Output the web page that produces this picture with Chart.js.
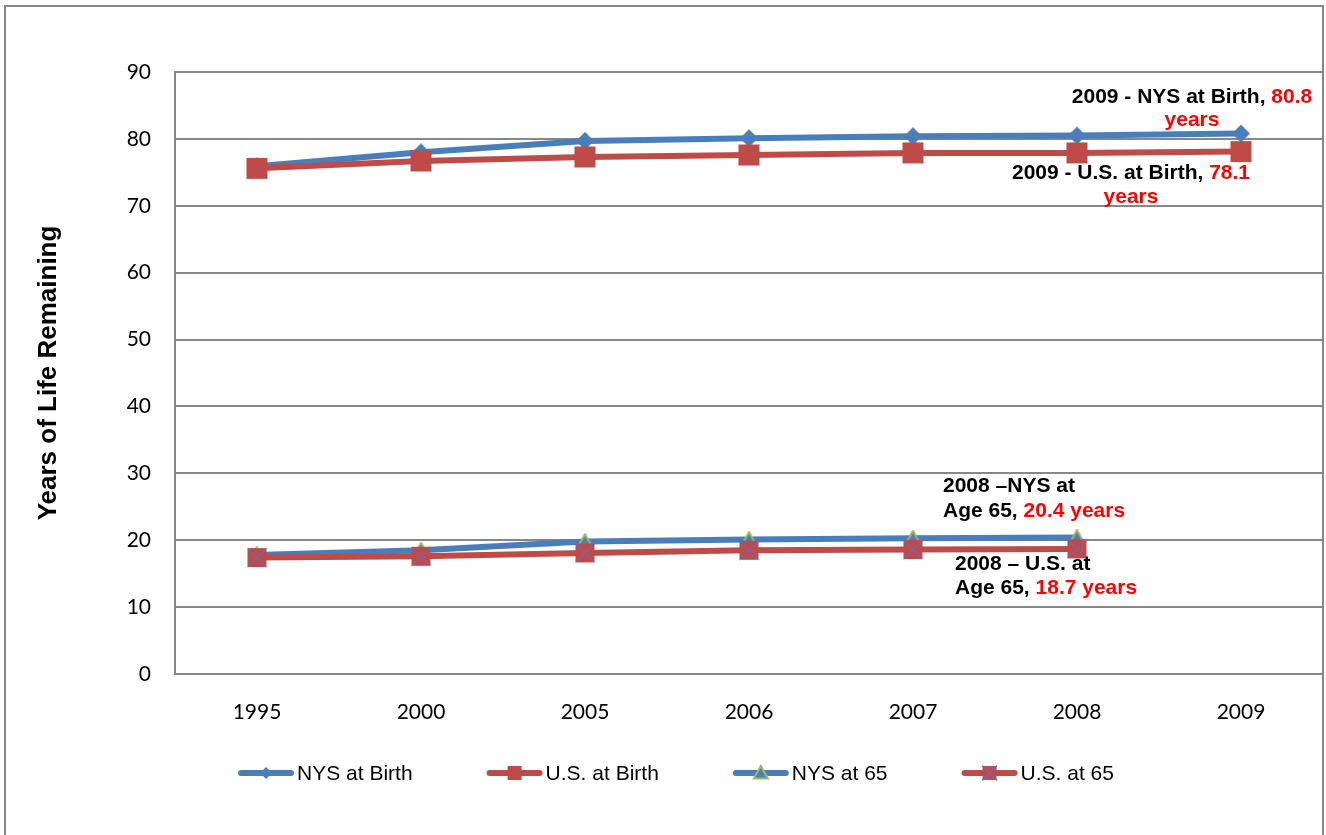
<!DOCTYPE html>
<html>
<head>
<meta charset="utf-8">
<script src="https://cdn.jsdelivr.net/npm/chart.js@4.4.0/dist/chart.umd.min.js"></script>
<style>
  html, body { margin: 0; padding: 0; background: #fff; }
  #wrap { width: 1326px; height: 835px; position: relative; }
</style>
</head>
<body>
<div id="wrap"><canvas id="grafico"></canvas></div>
<script>
// Datos del gráfico
const years = ["1995", "2000", "2005", "2006", "2007", "2008", "2009"];
const nysBirth = [75.9, 78.0, 79.7, 80.1, 80.4, 80.5, 80.8];
const usBirth = [75.6, 76.7, 77.3, 77.6, 77.9, 77.9, 78.1];
const nys65 = [17.8, 18.5, 19.8, 20.1, 20.3, 20.4, null];
const us65 = [17.4, 17.6, 18.1, 18.5, 18.6, 18.7, null];
const seriesNames = ["NYS at Birth", "U.S. at Birth", "NYS at 65", "U.S. at 65"];
const yTicks = [0, 10, 20, 30, 40, 50, 60, 70, 80, 90];
const yTitle = "Years of Life Remaining";

// Notas: [texto, color] por segmento
const notes = [
  { ds: 0, idx: 6, dx: -49, dy: [-36, -13], align: "center",
    lines: [[["2009 - NYS at Birth, ", "#000"], ["80.8", "#ff0000"]], [["years", "#ff0000"]]] },
  { ds: 1, idx: 6, dx: -110, dy: [22, 46], align: "center",
    lines: [[["2009 - U.S. at Birth, ", "#000"], ["78.1", "#ff0000"]], [["years", "#ff0000"]]] },
  { ds: 2, idx: 5, dx: -134, dy: [-51, -26], align: "left",
    lines: [[["2008 \u2013NYS at", "#000"]], [["Age 65, ", "#000"], ["20.4 years", "#ff0000"]]] },
  { ds: 3, idx: 5, dx: -122, dy: [15, 39], align: "left",
    lines: [[["2008 \u2013 U.S. at", "#000"]], [["Age 65, ", "#000"], ["18.7 years", "#ff0000"]]] }
];

const blue = "#4A7EBB";
const red = "#BE4B48";
const green = "#9BBB59";
const purple = "#7E62A8";
const grid = "#878787";

// Marcadores
let drawMarker = (ctx, kind, x, y, s) => {
  ctx.save();
  if (kind === "diamond") {
    ctx.fillStyle = blue;
    ctx.beginPath();
    ctx.moveTo(x, y - s); ctx.lineTo(x + s, y); ctx.lineTo(x, y + s); ctx.lineTo(x - s, y);
    ctx.closePath(); ctx.fill();
  } else if (kind === "square") {
    ctx.fillStyle = red;
    ctx.fillRect(x - s, y - s, 2 * s, 2 * s);
  } else if (kind === "triangle") {
    ctx.fillStyle = blue;
    ctx.strokeStyle = green;
    ctx.lineWidth = 2;
    ctx.beginPath();
    ctx.moveTo(x, y - s); ctx.lineTo(x + s, y + s * 0.8); ctx.lineTo(x - s, y + s * 0.8);
    ctx.closePath(); ctx.fill(); ctx.stroke();
  } else if (kind === "squareX") {
    ctx.fillStyle = red;
    ctx.fillRect(x - s, y - s, 2 * s, 2 * s);
    ctx.strokeStyle = purple;
    ctx.lineWidth = 1.5;
    ctx.beginPath();
    ctx.moveTo(x - s, y - s); ctx.lineTo(x + s, y + s);
    ctx.moveTo(x + s, y - s); ctx.lineTo(x - s, y + s);
    ctx.stroke();
  }
  ctx.restore();
};

let markerCanvas = (kind, s) => {
  const c = document.createElement("canvas");
  c.width = 2 * s + 2;
  c.height = 2 * s + 2;
  drawMarker(c.getContext("2d"), kind, s + 1, s + 1, s);
  return c;
};

const legendKinds = ["diamond", "square", "triangle", "squareX"];
const legendColors = [blue, red, blue, red];
const legendSizes = [6, 7, 7, 7];

// Borde exterior
const frame = {
  id: "frame",
  beforeDraw(chart) {
    const ctx = chart.ctx;
    ctx.save();
    ctx.strokeStyle = grid;
    ctx.lineWidth = 2;
    ctx.strokeRect(5, 6, 1318, 850);
    ctx.restore();
  }
};

// Notas de texto junto a los puntos
const notesPlugin = {
  id: "notes",
  afterDatasetsDraw(chart) {
    const ctx = chart.ctx;
    ctx.save();
    ctx.font = "bold 21px 'Liberation Sans', Arial, sans-serif";
    ctx.textBaseline = "middle";
    ctx.textAlign = "left";
    notes.forEach((n) => {
      const pt = chart.getDatasetMeta(n.ds).data[n.idx];
      n.lines.forEach((line, i) => {
        const total = line.reduce((a, seg) => a + ctx.measureText(seg[0]).width, 0);
        let x = n.align === "center" ? pt.x + n.dx - total / 2 : pt.x + n.dx;
        const y = pt.y + n.dy[i];
        line.forEach((seg) => {
          ctx.fillStyle = seg[1];
          ctx.fillText(seg[0], x, y);
          x += ctx.measureText(seg[0]).width;
        });
      });
    });
    ctx.restore();
  }
};

// Leyenda propia (línea + marcador)
const legendPlugin = {
  id: "customLegend",
  afterDraw(chart) {
    const ctx = chart.ctx;
    ctx.save();
    ctx.font = "21px 'Liberation Sans', Arial, sans-serif";
    ctx.textBaseline = "middle";
    const lineLen = 56, gap = 3, spacing = 74;
    const widths = seriesNames.map((t) => lineLen + gap + ctx.measureText(t).width);
    const total = widths.reduce((a, b) => a + b, 0) + spacing * (seriesNames.length - 1);
    let x = chart.width / 2 + 13 - total / 2;
    const y = 773;
    seriesNames.forEach((t, i) => {
      ctx.strokeStyle = legendColors[i];
      ctx.lineWidth = 6;
      ctx.lineCap = "round";
      ctx.beginPath();
      ctx.moveTo(x + 3, y);
      ctx.lineTo(x + lineLen - 3, y);
      ctx.stroke();
      drawMarker(ctx, legendKinds[i], x + lineLen / 2, y, legendSizes[i]);
      ctx.fillStyle = "#000";
      ctx.fillText(t, x + lineLen + gap, y + 1);
      x += widths[i] + spacing;
    });
    ctx.restore();
  }
};

const ctx = document.getElementById("grafico");

new Chart(ctx, {
  type: "line",
  data: {
    labels: years,
    datasets: [
      {
        label: seriesNames[0],
        data: nysBirth,
        borderColor: blue,
        backgroundColor: blue,
        borderWidth: 6,
        pointStyle: markerCanvas("diamond", 9),
        order: 4
      },
      {
        label: seriesNames[1],
        data: usBirth,
        borderColor: red,
        backgroundColor: red,
        borderWidth: 6,
        pointStyle: markerCanvas("square", 10.5),
        order: 3
      },
      {
        label: seriesNames[2],
        data: nys65,
        borderColor: blue,
        backgroundColor: blue,
        borderWidth: 6,
        pointStyle: markerCanvas("triangle", 7.5),
        order: 2
      },
      {
        label: seriesNames[3],
        data: us65,
        borderColor: red,
        backgroundColor: red,
        borderWidth: 6,
        pointStyle: markerCanvas("squareX", 9.5),
        order: 1
      }
    ]
  },
  options: {
    responsive: true,
    maintainAspectRatio: false,
    devicePixelRatio: 1,
    animation: false,
    layout: { autoPadding: false, padding: { top: 72, right: 3, bottom: 82, left: 0 } },
    elements: { line: { tension: 0 } },
    plugins: {
      legend: { display: false },
      tooltip: { enabled: false }
    },
    scales: {
      x: {
        offset: true,
        grid: { display: false, drawTicks: false },
        border: { display: true, color: grid, width: 2 },
        ticks: {
          color: "#000",
          padding: 26,
          font: { family: "Lato, 'Open Sans', sans-serif", size: 21 }
        },
        afterFit: (scale) => {
          scale.height = 79;
          scale.paddingLeft = 0;
          scale.paddingRight = 0;
        }
      },
      y: {
        min: 0,
        max: 90,
        grid: { color: grid, lineWidth: 2, drawTicks: false },
        border: { display: true, color: grid, width: 2 },
        ticks: {
          stepSize: 10,
          color: "#000",
          padding: 24,
          font: { family: "Lato, 'Open Sans', sans-serif", size: 21 },
          callback: (v) => (yTicks.includes(v) ? String(v) : "")
        },
        title: {
          display: true,
          text: yTitle,
          color: "#000",
          padding: { top: 33, bottom: 0 },
          font: { family: "'Liberation Sans', Arial, sans-serif", size: 26, weight: "bold" }
        },
        afterFit: (scale) => { scale.width = 175; }
      }
    }
  },
  plugins: [frame, notesPlugin, legendPlugin]
});
</script>
</body>
</html>
